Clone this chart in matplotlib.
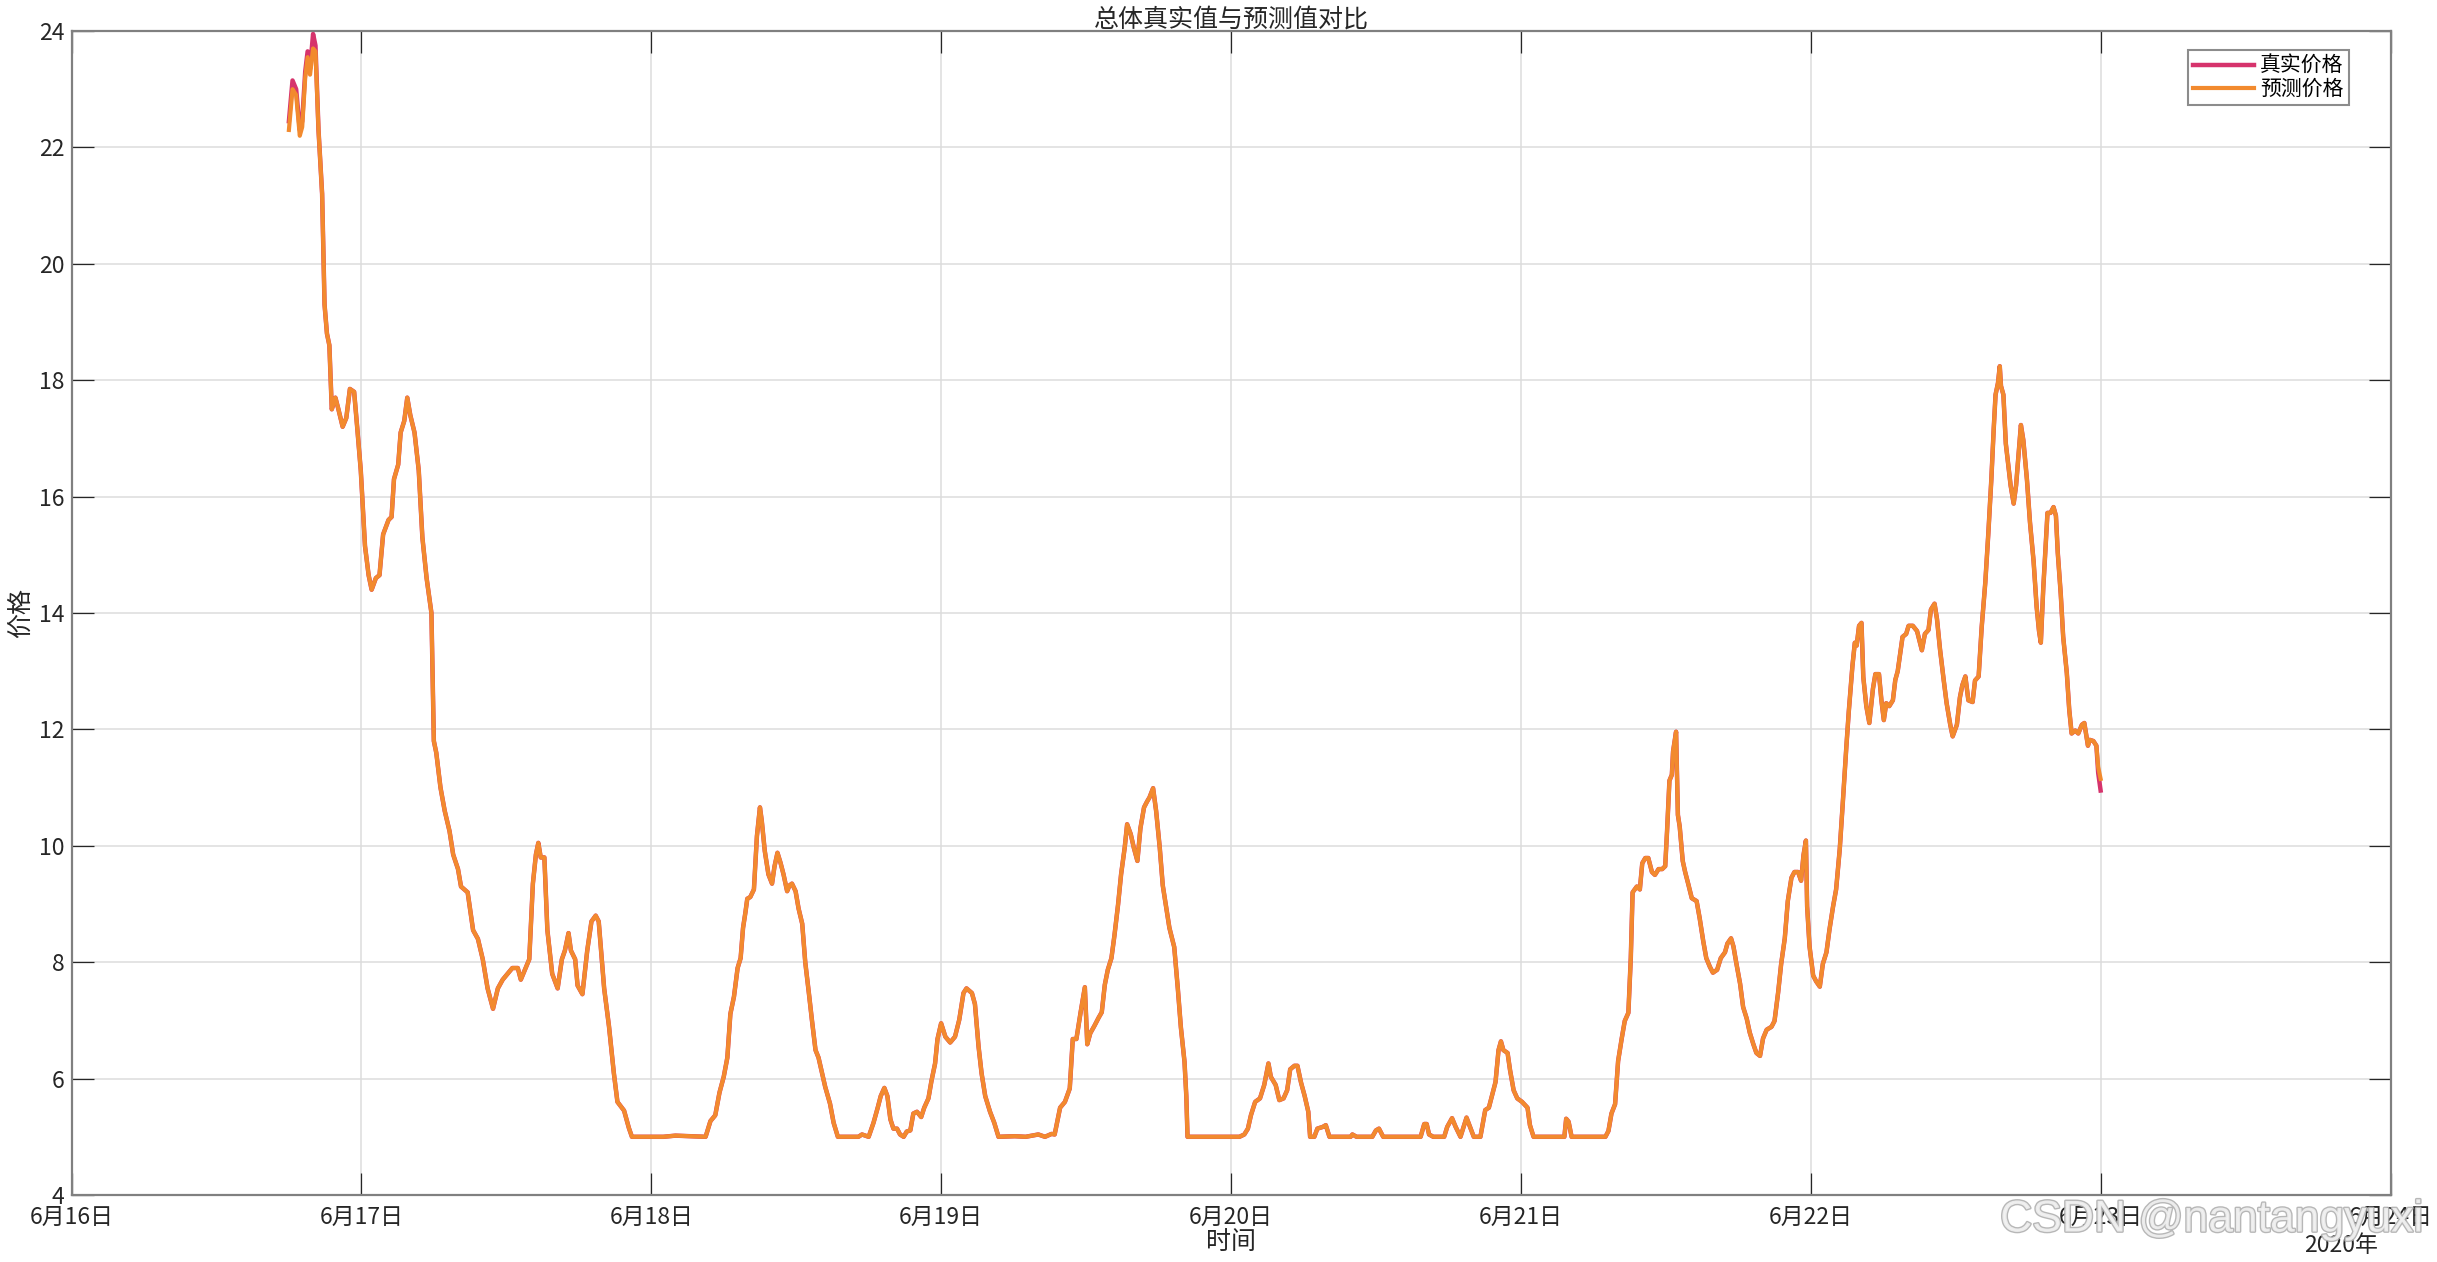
import datetime
import matplotlib
matplotlib.use("Agg")
import matplotlib.pyplot as plt
import matplotlib.dates as mdates
import matplotlib.patheffects as pe
from matplotlib.ticker import FuncFormatter, MultipleLocator

plt.rcParams['font.family'] = ['Noto Sans CJK SC', 'DejaVu Sans']

# 数据：从 2020-06-16 18:00 起的小时数，以及对应价格
start_time = datetime.datetime(2020, 6, 16, 18, 0)

hours = [
    0.0, 0.3, 0.6, 0.9, 1.1, 1.35, 1.55, 1.75, 2.0, 2.2,
    2.45, 2.75, 2.95, 3.15, 3.35, 3.55, 3.85, 4.1, 4.45, 4.75,
    5.05, 5.4, 5.65, 5.95, 6.3, 6.6, 6.85, 7.2, 7.5, 7.8,
    8.25, 8.5, 8.7, 9.05, 9.25, 9.55, 9.8, 10.05, 10.4, 10.75,
    11.05, 11.4, 11.8, 12.0, 12.2, 12.55, 12.9, 13.3, 13.6, 14.0,
    14.25, 14.8, 15.25, 15.65, 16.05, 16.45, 16.9, 17.3, 17.7, 18.1,
    18.5, 18.95, 19.2, 19.6, 19.9, 20.2, 20.45, 20.65, 20.85, 21.15,
    21.4, 21.8, 22.25, 22.6, 22.85, 23.15, 23.35, 23.7, 23.9, 24.3,
    24.7, 25.05, 25.4, 25.65, 26.1, 26.5, 26.9, 27.2, 27.75, 28.15,
    28.4, 31.0, 32.0, 34.5, 34.9, 35.3, 35.65, 36.0, 36.3, 36.55,
    36.85, 37.15, 37.4, 37.6, 37.8, 37.95, 38.2, 38.5, 38.75, 39.0,
    39.15, 39.4, 39.7, 40.0, 40.2, 40.45, 40.7, 40.95, 41.25, 41.45,
    41.65, 41.95, 42.2, 42.5, 42.75, 43.05, 43.3, 43.6, 43.85, 44.15,
    44.4, 44.8, 45.1, 45.45, 46.1, 47.15, 47.45, 48.0, 48.4, 48.75,
    49.0, 49.3, 49.55, 49.8, 50.05, 50.35, 50.6, 50.9, 51.15, 51.45,
    51.7, 52.0, 52.35, 52.6, 52.95, 53.2, 53.5, 53.7, 54.0, 54.35,
    54.75, 55.15, 55.5, 55.85, 56.1, 56.55, 56.8, 57.1, 57.35, 57.65,
    58.05, 58.4, 58.75, 60.1, 61.0, 62.05, 62.6, 63.15, 63.4, 63.85,
    64.25, 64.65, 64.9, 65.2, 65.55, 65.9, 66.1, 66.35, 66.7, 67.05,
    67.3, 67.55, 67.8, 68.1, 68.35, 68.65, 68.9, 69.2, 69.4, 69.7,
    69.95, 70.25, 70.5, 70.8, 71.05, 71.25, 71.55, 71.8, 72.1, 72.35,
    72.65, 72.9, 73.3, 73.6, 73.85, 74.15, 74.3, 74.4, 76.5, 78.7,
    79.1, 79.4, 79.65, 80.0, 80.4, 80.75, 81.1, 81.3, 81.7, 82.0,
    82.35, 82.65, 82.9, 83.25, 83.5, 83.8, 84.1, 84.4, 84.55, 84.9,
    85.15, 85.6, 85.85, 86.15, 87.9, 88.05, 88.4, 89.7, 90.0, 90.25,
    90.6, 93.7, 94.0, 94.2, 94.4, 94.75, 95.65, 95.9, 96.3, 96.6,
    97.0, 97.5, 97.85, 98.1, 98.65, 99.05, 99.35, 99.6, 99.9, 100.15,
    100.35, 100.55, 100.9, 101.1, 101.4, 101.7, 102.1, 102.55, 102.75, 103.05,
    105.6, 105.75, 105.95, 106.2, 109.0, 109.25, 109.5, 109.8, 110.05, 110.35,
    110.6, 110.9, 111.1, 111.25, 111.6, 111.85, 112.05, 112.3, 112.55, 112.85,
    113.1, 113.4, 113.7, 113.95, 114.1, 114.3, 114.5, 114.6, 114.85, 115.0,
    115.15, 115.4, 115.6, 115.85, 116.15, 116.55, 116.8, 117.1, 117.35, 117.65,
    117.9, 118.25, 118.55, 118.9, 119.1, 119.4, 119.6, 119.85, 120.15, 120.4,
    120.7, 120.95, 121.25, 121.5, 121.8, 122.05, 122.35, 122.75, 123.0, 123.3,
    123.55, 123.85, 124.1, 124.4, 124.65, 124.95, 125.2, 125.4, 125.6, 125.7,
    125.9, 126.2, 126.45, 126.75, 127.0, 127.3, 127.55, 127.85, 128.1, 128.4,
    128.65, 128.95, 129.15, 129.45, 129.65, 129.8, 130.0, 130.2, 130.35, 130.6,
    130.85, 131.15, 131.35, 131.65, 131.85, 132.05, 132.25, 132.5, 132.8, 133.0,
    133.2, 133.4, 133.6, 133.9, 134.1, 134.45, 134.8, 135.2, 135.45, 135.75,
    135.95, 136.25, 136.45, 136.7, 137.0, 137.25, 137.55, 137.75, 138.1, 138.35,
    138.55, 138.8, 139.05, 139.4, 139.6, 139.9, 140.15, 140.45, 140.7, 140.95,
    141.15, 141.3, 141.5, 141.65, 141.75, 141.95, 142.15, 142.35, 142.55, 142.8,
    143.0, 143.2, 143.4, 143.6, 143.9, 144.15, 144.45, 144.7, 144.9, 145.05,
    145.25, 145.45, 145.6, 145.85, 146.1, 146.3, 146.45, 146.7, 146.9, 147.2,
    147.4, 147.6, 147.9, 148.15, 148.45, 148.65, 148.95, 149.1, 149.4, 149.65,
    149.8, 150.0,
]

real_price = [
    22.45, 23.15, 23.0, 22.3, 22.45, 23.3, 23.65, 23.35, 23.95, 23.75,
    22.3, 21.2, 19.3, 18.8, 18.6, 17.5, 17.7, 17.5, 17.2, 17.35,
    17.85, 17.8, 17.2, 16.45, 15.15, 14.65, 14.4, 14.6, 14.65, 15.35,
    15.6, 15.65, 16.3, 16.55, 17.1, 17.3, 17.7, 17.4, 17.1, 16.45,
    15.3, 14.6, 14.0, 11.8, 11.6, 11.0, 10.6, 10.25, 9.85, 9.6,
    9.3, 9.2, 8.55, 8.4, 8.05, 7.55, 7.2, 7.55, 7.7, 7.8,
    7.9, 7.9, 7.7, 7.9, 8.05, 9.35, 9.85, 10.05, 9.8, 9.8,
    8.55, 7.8, 7.55, 8.05, 8.2, 8.5, 8.2, 8.05, 7.6, 7.45,
    8.2, 8.7, 8.8, 8.7, 7.55, 6.9, 6.1, 5.6, 5.45, 5.15,
    5.0, 5.0, 5.02, 5.0, 5.27, 5.37, 5.76, 6.03, 6.36, 7.11,
    7.41, 7.9, 8.07, 8.59, 8.86, 9.09, 9.12, 9.25, 10.17, 10.66,
    10.43, 9.91, 9.51, 9.35, 9.64, 9.88, 9.71, 9.51, 9.22, 9.32,
    9.35, 9.22, 8.92, 8.66, 8.0, 7.47, 7.01, 6.49, 6.36, 6.09,
    5.86, 5.57, 5.24, 5.0, 5.0, 5.0, 5.04, 5.0, 5.24, 5.5,
    5.7, 5.84, 5.7, 5.3, 5.14, 5.14, 5.04, 5.0, 5.09, 5.11,
    5.4, 5.43, 5.34, 5.5, 5.66, 5.96, 6.26, 6.68, 6.95, 6.72,
    6.62, 6.72, 7.01, 7.47, 7.55, 7.47, 7.28, 6.55, 6.09, 5.7,
    5.43, 5.24, 5.0, 5.01, 5.0, 5.04, 5.0, 5.05, 5.04, 5.5,
    5.6, 5.83, 6.68, 6.68, 7.14, 7.57, 6.59, 6.78, 6.91, 7.05,
    7.14, 7.61, 7.87, 8.07, 8.46, 8.99, 9.51, 9.97, 10.37, 10.2,
    9.97, 9.74, 10.3, 10.66, 10.76, 10.83, 10.99, 10.6, 9.97, 9.32,
    8.92, 8.59, 8.26, 7.54, 6.88, 6.29, 5.7, 5.0, 5.0, 5.0,
    5.04, 5.14, 5.37, 5.6, 5.66, 5.89, 6.26, 6.03, 5.89, 5.63,
    5.66, 5.8, 6.16, 6.22, 6.22, 5.93, 5.7, 5.43, 5.0, 5.0,
    5.14, 5.17, 5.2, 5.0, 5.0, 5.04, 5.0, 5.0, 5.11, 5.14,
    5.0, 5.0, 5.22, 5.22, 5.04, 5.0, 5.0, 5.17, 5.32, 5.17,
    5.0, 5.33, 5.14, 5.0, 5.0, 5.46, 5.5, 5.7, 5.94, 6.49,
    6.64, 6.49, 6.44, 6.15, 5.8, 5.66, 5.6, 5.5, 5.2, 5.0,
    5.0, 5.31, 5.26, 5.0, 5.0, 5.1, 5.4, 5.56, 6.3, 6.69,
    6.99, 7.13, 8.07, 9.2, 9.3, 9.25, 9.7, 9.79, 9.79, 9.55,
    9.5, 9.6, 9.6, 9.65, 10.24, 11.12, 11.22, 11.62, 11.96, 10.53,
    10.33, 9.74, 9.55, 9.35, 9.1, 9.05, 8.76, 8.36, 8.07, 7.92,
    7.82, 7.87, 8.07, 8.17, 8.32, 8.41, 8.27, 7.97, 7.63, 7.23,
    7.03, 6.79, 6.59, 6.44, 6.39, 6.69, 6.84, 6.89, 6.99, 7.48,
    7.97, 8.41, 9.05, 9.45, 9.55, 9.55, 9.4, 9.84, 10.09, 8.96,
    8.27, 7.77, 7.67, 7.58, 7.97, 8.17, 8.56, 8.96, 9.25, 9.94,
    10.73, 11.71, 12.31, 13.09, 13.49, 13.44, 13.78, 13.83, 12.9, 12.4,
    12.11, 12.7, 12.95, 12.95, 12.5, 12.16, 12.45, 12.4, 12.5, 12.85,
    13.0, 13.3, 13.59, 13.64, 13.78, 13.78, 13.69, 13.36, 13.64, 13.71,
    14.06, 14.16, 13.9, 13.38, 12.86, 12.45, 12.08, 11.88, 12.08, 12.55,
    12.76, 12.91, 12.5, 12.47, 12.84, 12.91, 13.75, 14.52, 15.36, 16.29,
    17.17, 17.75, 17.95, 18.24, 17.9, 17.75, 16.91, 16.55, 16.19, 15.88,
    16.19, 16.71, 17.23, 16.97, 16.29, 15.56, 14.89, 14.11, 13.69, 13.49,
    14.42, 15.15, 15.72, 15.72, 15.82, 15.67, 15.04, 14.32, 13.59, 12.97,
    12.34, 11.93, 11.98, 11.93, 12.08, 12.11, 11.72, 11.82, 11.8, 11.72,
    11.25, 10.95,
]

# 预测值与真实值几乎重合，只在开头和结尾有可见差别
pred_head = [22.3, 23.0, 22.9, 22.2, 22.35, 23.2, 23.55, 23.25, 23.7, 23.65]
pred_tail = [11.35, 11.15]
pred_price = pred_head + real_price[len(pred_head):-len(pred_tail)] + pred_tail

times = [start_time + datetime.timedelta(hours=h) for h in hours]

fig = plt.figure(figsize=(24.37, 12.62), dpi=100)
ax = fig.add_axes([71.5 / 2437, 67 / 1262, 2319 / 2437, 1164 / 1262])

ax.plot(times, real_price, color='#d6336c', linewidth=3.2, label='真实价格')
ax.plot(times, pred_price, color='#f28a2e', linewidth=3, label='预测价格')

ax.set_xlim(datetime.datetime(2020, 6, 16), datetime.datetime(2020, 6, 24))
ax.set_ylim(4, 24)
ax.yaxis.set_major_locator(MultipleLocator(2))
ax.xaxis.set_major_locator(mdates.DayLocator())

def date_label(v, pos):
    d = mdates.num2date(v)
    return f"{d.month}月{d.day}日"

ax.xaxis.set_major_formatter(FuncFormatter(date_label))

ax.grid(True, color='#dcdcdc', linewidth=1.1)
ax.set_axisbelow(True)
for s in ax.spines.values():
    s.set_color('#808080')
    s.set_linewidth(1.6)

ax.tick_params(direction='in', length=16, width=0.9, top=True, right=True,
               color='#262626', labelcolor='#262626', labelsize=16.5)
ax.tick_params(axis='x', pad=8)
ax.tick_params(axis='y', pad=5)

ax.set_title('总体真实值与预测值对比', fontsize=18, color='#262626', pad=3)
ax.set_xlabel('时间', fontsize=18, color='#262626', labelpad=0)
ax.set_ylabel('价格', fontsize=18, color='#262626', labelpad=4)

fig.text(2378 / 2437, 1 - 1245 / 1262, '2020年', fontsize=16.5, color='#262626',
         ha='right', va='center')

leg = ax.legend(loc='upper right', bbox_to_anchor=(0.982, 0.984), borderaxespad=0,
                fontsize=15, fancybox=False, framealpha=1, edgecolor='#8c8c8c',
                handlelength=2.9, handletextpad=0.3, borderpad=0.25, labelspacing=0.05)
leg.get_frame().set_linewidth(1.5)

# CSDN 水印
fig.text(2212 / 2437, 1 - 1220 / 1262, 'CSDN @nantangyuxi', fontsize=32,
         family='Liberation Sans', color='#f2f2f2', ha='center', va='center',
         path_effects=[pe.withStroke(linewidth=2, foreground='#b0b0b0')], alpha=0.9)

plt.savefig('out.png', dpi=100)
